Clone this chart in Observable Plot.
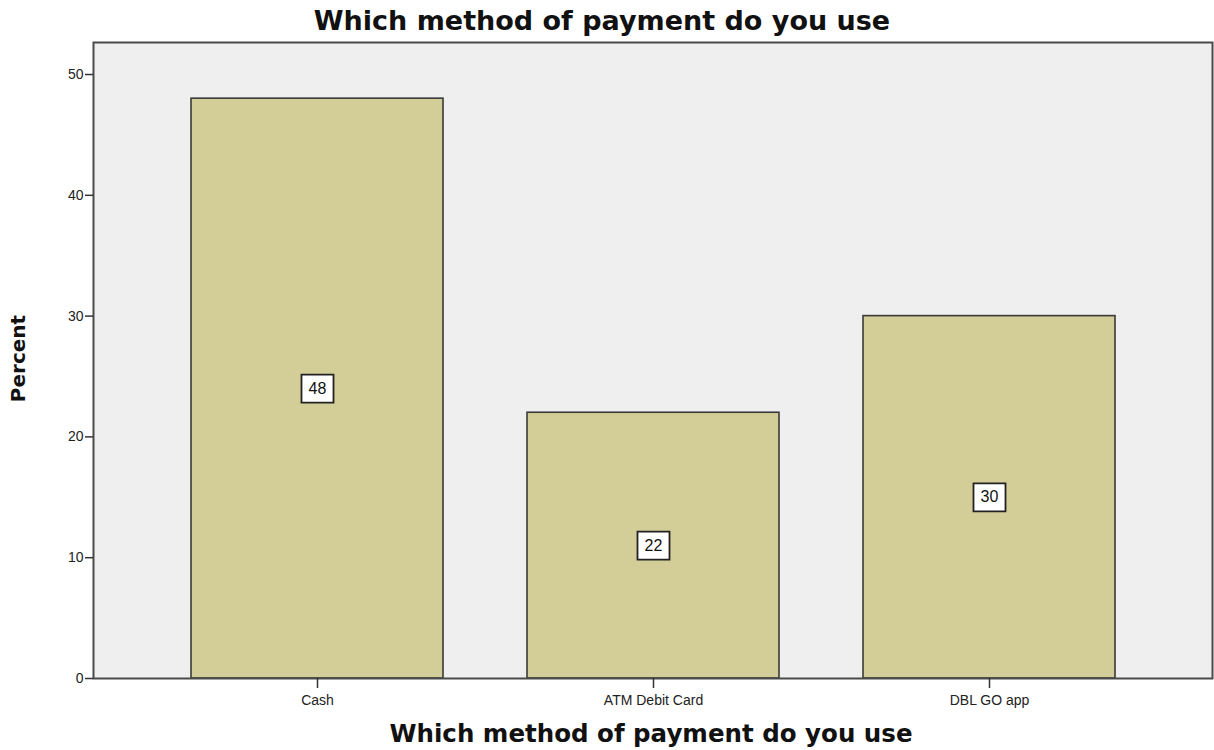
<!DOCTYPE html>
<html>
<head>
<meta charset="utf-8">
<script src="https://cdn.jsdelivr.net/npm/d3@7"></script>
<script src="https://cdn.jsdelivr.net/npm/@observablehq/plot@0.6"></script>
<style>
  html, body { margin: 0; padding: 0; background: #fff; }
  #chart svg { display: block; }
</style>
</head>
<body>
<div id="chart"></div>
<script>
const categories = ["Cash", "ATM Debit Card", "DBL GO app"];
const percents = [48, 22, 30];
const yTicks = [0, 10, 20, 30, 40, 50];
const titleText = "Which method of payment do you use";
const xLabel = "Which method of payment do you use";
const yLabel = "Percent";

const data = categories.map((c, i) => ({category: c, value: percents[i], mid: percents[i] / 2}));

const boxSymbol = {
  draw(context) {
    context.rect(-16, -14, 32, 28);
  }
};

const font = "'Liberation Sans', Arial, sans-serif";
const boldFont = "'DejaVu Sans', Verdana, sans-serif";

const chart = Plot.plot({
  width: 1214,
  height: 750,
  marginLeft: 93,
  marginRight: 2,
  marginTop: 42,
  marginBottom: 72,
  style: {fontFamily: font, fontSize: "14px", color: "#222", background: "#fff"},
  x: {domain: categories, paddingInner: 0.251, paddingOuter: 0.288, label: null},
  y: {domain: [0, 52.65], label: null},
  marks: [
    Plot.frame({fill: "#efefef"}),
    Plot.barY(data, {x: "category", y: "value", fill: "#d3ce97", stroke: "#3a3a3a", strokeWidth: 1.6}),
    Plot.frame({stroke: "#4a4a4a", strokeWidth: 2}),
    Plot.axisY({ticks: yTicks, tickSize: 8, tickPadding: 2, fontSize: 14, stroke: "#333", strokeWidth: 1.5, label: null}),
    Plot.axisX({tickSize: 10, tickPadding: 7, fontSize: 14, stroke: "#333", strokeWidth: 1.5, label: null}),
    Plot.dot(data, {x: "category", y: "mid", symbol: boxSymbol, fill: "white", stroke: "#222", strokeWidth: 1.8, r: 10}),
    Plot.text(data, {x: "category", y: "mid", text: d => String(d.value), fontSize: 16, fill: "#111"}),
    Plot.text([titleText], {frameAnchor: "top", lineAnchor: "middle", dx: -51, dy: -21, fontSize: 27, fontWeight: "bold", fontFamily: boldFont, fill: "#111"}),
    Plot.text([xLabel], {frameAnchor: "bottom", lineAnchor: "middle", dx: -2, dy: 56, fontSize: 24.5, fontWeight: "bold", fontFamily: boldFont, fill: "#111"}),
    Plot.text([yLabel], {frameAnchor: "left", textAnchor: "middle", lineAnchor: "middle", dx: -75, dy: -2, rotate: -90, fontSize: 20, fontWeight: "bold", fontFamily: boldFont, fill: "#111"})
  ]
});

document.getElementById("chart").append(chart);
</script>
</body>
</html>
